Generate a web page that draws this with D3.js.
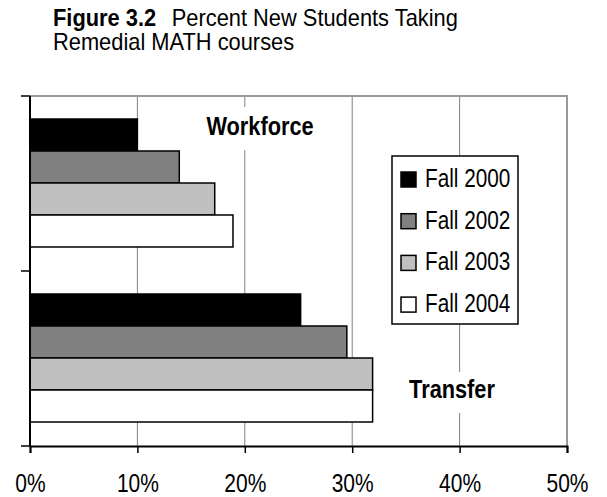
<!DOCTYPE html>
<html>
<head>
<meta charset="utf-8">
<script src="https://cdn.jsdelivr.net/npm/d3@7"></script>
<style>
  body { margin: 0; background: #fff; }
  svg text { font-family: "Liberation Sans", Arial, sans-serif; fill: #000; }
</style>
</head>
<body>
<svg id="chart" width="607" height="497"></svg>
<script>
// --- data ---
const categories = ["Workforce", "Transfer"];
const seriesNames = ["Fall 2000", "Fall 2002", "Fall 2003", "Fall 2004"];
const fall2000 = [0.100, 0.252];
const fall2002 = [0.139, 0.295];
const fall2003 = [0.172, 0.319];
const fall2004 = [0.189, 0.319];
const xTicks = [0, 0.1, 0.2, 0.3, 0.4, 0.5];
const seriesFill = ["#000000", "#808080", "#c0c0c0", "#ffffff"];

const seriesValues = [fall2000, fall2002, fall2003, fall2004];

const svg = d3.select("#chart");

// no narrow font installed, so squeeze text horizontally
function placeText(parent, x, y, k) {
    return parent.append("text")
        .attr("transform", `translate(${x},${y}) scale(${k},1)`);
}

// --- title ---
const title1 = placeText(svg, 53, 26, 0.95).style("font-size", "23px");
title1.append("tspan").style("font-weight", "bold").text("Figure 3.2");
title1.append("tspan").attr("x", 125).text("Percent New Students Taking");
placeText(svg, 53, 50, 0.95).style("font-size", "23px")
    .text("Remedial MATH courses");

// --- scales ---
const x = d3.scaleLinear().domain([0, 0.5]).range([30, 567]);
const y = d3.scaleBand().domain(categories).range([96, 446]);
const yInner = d3.scaleBand().domain(seriesNames).range([23, 151]);

// gridlines
svg.append("g")
    .selectAll("line")
    .data(xTicks.slice(1, -1))
    .enter()
    .append("line")
    .attr("x1", d => x(d)).attr("x2", d => x(d))
    .attr("y1", 96).attr("y2", 446)
    .attr("stroke", "#808080")
    .attr("stroke-width", 1);

// plot frame (top and right, grey)
svg.append("path")
    .attr("d", `M${x(0)},96H${x(0.5)}V446`)
    .attr("fill", "none")
    .attr("stroke", "#999")
    .attr("stroke-width", 2);

// --- bars ---
const rows = [];
categories.forEach((c, ci) => {
    seriesNames.forEach((s, si) => {
        rows.push({cat: c, series: s, value: seriesValues[si][ci], fill: seriesFill[si]});
    });
});

svg.append("g")
    .selectAll("rect")
    .data(rows)
    .enter()
    .append("rect")
    .attr("x", x(0))
    .attr("y", d => y(d.cat) + yInner(d.series))
    .attr("width", d => x(d.value) - x(0))
    .attr("height", yInner.bandwidth())
    .attr("fill", d => d.fill)
    .attr("stroke", "#000")
    .attr("stroke-width", 1.5);

// --- category labels with white boxes ---
const labelPos = [
    {text: "Workforce", cx: 260, top: 107, bottom: 150, baseline: 135},
    {text: "Transfer", cx: 452, top: 372, bottom: 413, baseline: 398}
];
labelPos.forEach(l => {
    svg.append("rect")
        .attr("x", l.cx - 62).attr("y", l.top)
        .attr("width", 124).attr("height", l.bottom - l.top)
        .attr("fill", "#fff");
    placeText(svg, l.cx, l.baseline, 0.87)
        .attr("text-anchor", "middle")
        .style("font-size", "25px")
        .style("font-weight", "bold")
        .text(l.text);
});

// --- axes ---
const xAxis = svg.append("g")
    .attr("transform", "translate(0,446)")
    .call(d3.axisBottom(x).tickValues(xTicks).tickFormat(d3.format(".0%")).tickSize(7).tickPadding(21));
xAxis.select(".domain").attr("stroke", "#000").attr("stroke-width", 2);
xAxis.selectAll(".tick line").attr("stroke", "#000").attr("stroke-width", 1.5);
xAxis.selectAll(".tick text")
    .attr("transform", "scale(0.84,1)")
    .style("font-size", "25px")
    .style("font-family", "'Liberation Sans', Arial, sans-serif");

// category axis: ticks at band boundaries
svg.append("line")
    .attr("x1", x(0)).attr("x2", x(0))
    .attr("y1", 96).attr("y2", 447)
    .attr("stroke", "#000").attr("stroke-width", 2);
const bounds = categories.map(c => y(c)).concat([y.range()[1]]);
svg.append("g")
    .selectAll("line")
    .data(bounds)
    .enter()
    .append("line")
    .attr("x1", x(0) - 9).attr("x2", x(0))
    .attr("y1", d => d).attr("y2", d => d)
    .attr("stroke", "#000").attr("stroke-width", 1.5);

// --- legend ---
const legend = svg.append("g").attr("transform", "translate(392,156)");
legend.append("rect")
    .attr("width", 126).attr("height", 168)
    .attr("fill", "#fff")
    .attr("stroke", "#000")
    .attr("stroke-width", 1.5);
const items = legend.selectAll("g.item")
    .data(seriesNames)
    .enter()
    .append("g")
    .attr("class", "item")
    .attr("transform", (d, i) => `translate(0,${31 + i * 41.7})`);
items.append("rect")
    .attr("x", 9).attr("y", -15)
    .attr("width", 15).attr("height", 15)
    .attr("fill", (d, i) => seriesFill[i])
    .attr("stroke", "#000")
    .attr("stroke-width", 1.5);
items.each(function(d) {
    placeText(d3.select(this), 33, 0, 0.83)
        .style("font-size", "25px")
        .text(d);
});
</script>
</body>
</html>
